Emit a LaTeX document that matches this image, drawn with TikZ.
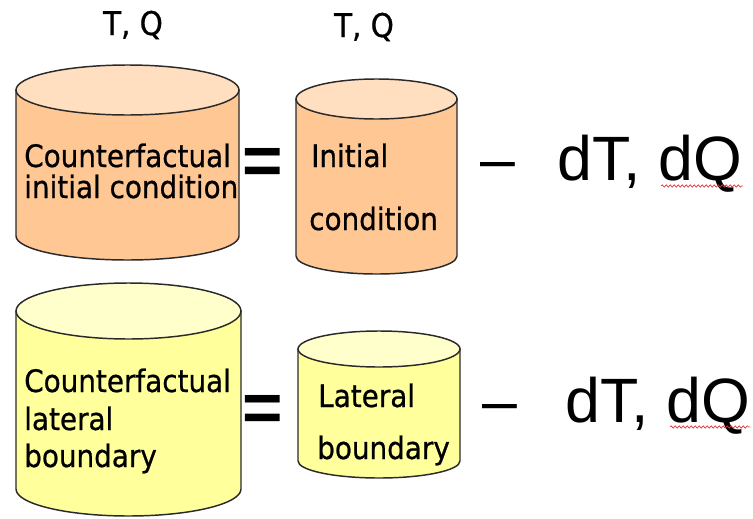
\documentclass[tikz,border=0pt]{standalone}
\usepackage{fontspec}
\setmainfont{Liberation Sans}
\newfontfamily\drumfont[FakeBold=0.7]{DejaVu Sans Condensed}
\usetikzlibrary{decorations.pathmorphing}
\definecolor{drumedge}{HTML}{2A2A2A}
\definecolor{peach}{HTML}{FFC794}
\definecolor{peachtop}{HTML}{FFDFC0}
\definecolor{lemon}{HTML}{FFFF9C}
\definecolor{lemontop}{HTML}{FFFFCC}
\definecolor{spellred}{HTML}{E03030}

\begin{document}
\begin{tikzpicture}[x=0.75pt,y=-0.75pt,
  drumline/.style={draw=drumedge,line width=1.1pt},
  drumtext/.style={anchor=base west,inner sep=0pt,font=\drumfont\fontsize{23.2}{28}\selectfont},
  toplabel/.style={anchor=base,inner sep=0pt,font=\drumfont\fontsize{24.5}{26}\selectfont},
  eqsign/.style={anchor=base,inner sep=0pt,font=\bfseries\fontsize{52}{52}\selectfont},
  deltatext/.style={anchor=base west,inner sep=0pt,font=\fontsize{47}{50}\selectfont},
  squiggle/.style={draw=spellred,line width=0.5pt,decorate,
    decoration={snake,amplitude=0.9pt,segment length=3pt}}]
  \useasboundingbox (0,0) rectangle (753,518);
  % upper row: initial condition
  \path[drumline,fill=peach]
    (16,90)--(16,236) arc[start angle=180,end angle=0,x radius=111.5,y radius=24]--(239,90)--cycle;
  \path[drumline,fill=peachtop] (127.5,90) ellipse[x radius=111.5,y radius=25];
  \path[drumline,fill=peach]
    (296,99)--(296,256) arc[start angle=180,end angle=0,x radius=80.5,y radius=18]--(457,99)--cycle;
  \path[drumline,fill=peachtop] (376.5,99) ellipse[x radius=80.5,y radius=20];
  \node[toplabel] (tq1) at (133,35) {T, Q};
  \node[toplabel] (tq2) at (364,37) {T, Q};
  \node[drumtext] (cf1a) at (24,167) {Counterfactual};
  \node[drumtext] (cf1b) at (24,198) {initial condition};
  \node[drumtext] (ic1a) at (311,167) {Initial};
  \node[drumtext] (ic1b) at (309,230) {condition};
  \node[eqsign] (eq1) at (262.5,184) {=};
  \node[deltatext] (minus1) at (480,180) {–};
  \node[deltatext] (delta1) at (557,180) {dT, dQ};
  \draw[squiggle] (661,186)--(743,186);
  % lower row: lateral boundary
  \path[drumline,fill=lemon]
    (16,311)--(16,489) arc[start angle=180,end angle=0,x radius=112.5,y radius=27]--(241,311)--cycle;
  \path[drumline,fill=lemontop] (128.5,311) ellipse[x radius=112.5,y radius=28];
  \path[drumline,fill=lemon]
    (298,349)--(298,461) arc[start angle=180,end angle=0,x radius=81,y radius=17]--(460,349)--cycle;
  \path[drumline,fill=lemontop] (379,349) ellipse[x radius=81,y radius=18];
  \node[drumtext] (cf2a) at (24,392) {Counterfactual};
  \node[drumtext] (cf2b) at (24,430) {lateral};
  \node[drumtext] (cf2c) at (24,467) {boundary};
  \node[drumtext] (lb2a) at (318,407) {Lateral};
  \node[drumtext] (lb2b) at (317,459) {boundary};
  \node[eqsign] (eq2) at (262.5,431) {=};
  \node[deltatext] (minus2) at (482,422) {–};
  \node[deltatext] (delta2) at (565,422) {dT, dQ};
  \draw[squiggle] (670,427)--(750,427);
\end{tikzpicture}
\end{document}
